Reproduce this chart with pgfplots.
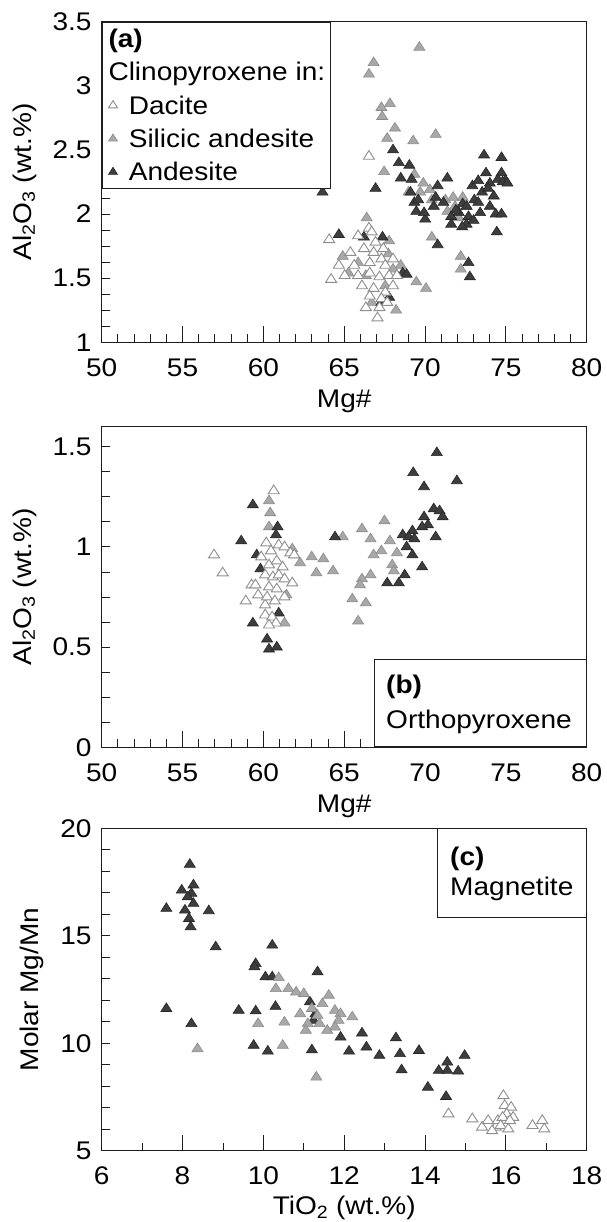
\documentclass[border=0pt]{standalone}
\usepackage{fontspec}
\setmainfont{Liberation Sans}[FakeStretch=1.1]
\usepackage{pgfplots}
\pgfplotsset{compat=1.18}

\definecolor{andfill}{HTML}{3D3D3D}
\definecolor{andedge}{HTML}{262626}
\definecolor{silfill}{HTML}{A8A8A8}
\definecolor{siledge}{HTML}{8A8A8A}
\definecolor{dacedge}{HTML}{8E8E8E}
\definecolor{axcol}{HTML}{1E1E1E}

\newcommand{\figfont}{\fontsize{25.5}{30}\selectfont}

\tikzset{
  boxnode/.style={draw=axcol, line width=1pt, fill=white, inner sep=0pt},
  boxtext/.style={font=\figfont, inner sep=0pt, anchor=base west},
}
\pgfplotsset{
  xlab/.style={every axis x label/.style={at={(ticklabel cs:0.5,#1)},
    anchor=near ticklabel, font=\figfont, inner sep=0pt}},
  ylab/.style={every axis y label/.style={at={(ticklabel cs:0.5,#1)},
    rotate=90, anchor=near ticklabel, font=\figfont, inner sep=0pt}},
  panel/.style={
    scale only axis, width=485pt,
    /pgf/number format/assume math mode=true,
    tick label style={font=\figfont, inner sep=0pt},
    x tick label style={yshift=-16pt},
    y tick label style={xshift=-10pt},
    xlab=13pt, ylab=16pt,
    axis line style={line width=1pt, axcol},
    tick style={line width=0.9pt, axcol},
    tick align=inside,
    xtick pos=bottom, ytick pos=left,
    major tick length=8pt, minor tick length=8pt,
    extra x tick labels={},
    extra x tick style={major tick length=16pt},
  },
  andm/.style={only marks, mark=triangle*, mark size=5.8pt,
    mark options={xscale=1.1, fill=andfill, draw=andedge, line width=0.6pt}},
  silm/.style={only marks, mark=triangle*, mark size=5.8pt,
    mark options={xscale=1.1, fill=silfill, draw=siledge, line width=0.6pt}},
  dacm/.style={only marks, mark=triangle*, mark size=5.8pt,
    mark options={xscale=1.1, fill=white, draw=dacedge, line width=0.9pt}},
}

\begin{document}
\begin{tikzpicture}[x=1pt,y=1pt]
\useasboundingbox (0,0) rectangle (606,-1222);

% ---------- (a) clinopyroxene
\begin{axis}[panel, at={(101.7pt,-342.3pt)}, anchor=south west, height=320.6pt,
  xmin=50, xmax=80, ymin=1, ymax=3.5,
  xtick={50,55,...,80}, minor x tick num=4, extra x ticks={50,55,...,80},
  ytick={1,1.5,...,3.5}, minor y tick num=3,
  xlabel={Mg\#}, ylabel={Al\textsubscript{2}O\textsubscript{3} (wt.\%)},
  legend style={at={(0,1)}, anchor=north west, draw=axcol, line width=1pt,
    fill=white, font=\figfont, inner sep=0pt, row sep=0pt,
    nodes={inner xsep=3pt, inner ysep=2pt, text height=23.5pt, text depth=5.8pt},
    cells={anchor=west}},
  legend image code/.code={\path (0pt,0pt) (22.6pt,0pt);
    \draw[mark repeat=2,mark phase=2,#1]
    plot coordinates {(0pt,0pt) (10.3pt,0pt) (20.6pt,0pt)};},
]
\addlegendimage{empty legend}\addlegendentry{\hspace*{-20.3pt}\textbf{(a)}}
\addlegendimage{empty legend}\addlegendentry{\hspace*{-20.3pt}Clinopyroxene in:\hspace*{2.5pt}}
\addlegendimage{dacm, mark size=4.8pt}\addlegendentry{Dacite}
\addlegendimage{silm, mark size=4.8pt}\addlegendentry{Silicic andesite}
\addlegendimage{andm, mark size=4.8pt}\addlegendentry{Andesite}

\addplot[silm, forget plot] coordinates {
(69.65,3.30) (66.82,3.18) (66.53,3.09) (67.30,2.83) (67.83,2.86) (67.35,2.76)
(68.14,2.67) (67.66,2.59) (69.27,2.57) (70.66,2.62) (67.47,2.33) (69.34,2.31)
(69.89,2.24) (68.98,2.17) (69.70,2.17) (70.30,2.19) (70.42,2.11) (71.26,2.11)
(71.74,2.13) (71.86,2.06) (72.33,2.13) (71.38,2.02) (72.09,1.97) (72.57,2.06)
(70.42,1.82) (72.21,1.67) (72.21,1.57) (69.46,1.47) (70.06,1.42) (66.39,1.97)
(67.78,1.79) (67.73,1.69) (64.91,1.67) (65.26,1.54) (66.34,1.52) (68.50,1.60)
(68.21,1.25) (66.70,1.31) (67.54,1.44) (68.02,1.57) (65.86,1.62)};
\addplot[andm, forget plot] coordinates {
(63.66,2.17) (64.67,1.84) (66.94,2.20) (66.22,1.82) (67.37,1.82) (68.02,2.50)
(68.38,2.40) (69.03,2.38) (68.50,2.28) (69.17,2.27) (69.10,2.17) (69.34,2.09)
(69.46,2.02) (70.01,1.96) (70.78,2.22) (70.66,2.13) (71.14,2.09) (70.54,2.06)
(71.38,2.28) (70.78,1.76) (71.62,1.98) (71.62,1.92) (72.33,2.08) (72.69,1.98)
(72.57,1.92) (72.69,1.62) (72.77,1.51) (72.93,2.22) (73.05,2.11) (73.41,2.01)
(73.65,2.46) (73.77,2.32) (74.01,2.24) (73.29,2.26) (73.53,2.17) (74.25,2.14)
(74.01,2.06) (74.37,2.00) (74.44,1.86) (74.73,2.44) (74.73,2.32) (74.73,2.00)
(74.97,2.26) (73.29,2.09) (72.57,2.06) (72.09,2.01) (69.94,2.01) (69.58,2.11)
(68.62,1.54) (68.86,1.53) (67.30,1.31) (67.78,1.35) (73.90,2.20) (74.50,2.27)
(73.00,1.95) (72.30,1.90) (71.90,2.03) (74.80,2.25) (75.10,2.24)};
\addplot[dacm, forget plot] coordinates {
(66.53,2.45) (64.07,1.80) (65.86,1.83) (66.53,1.89) (66.70,1.86) (65.38,1.70)
(66.22,1.73) (66.94,1.78) (67.42,1.73) (64.67,1.60) (65.62,1.60) (66.58,1.62)
(67.30,1.65) (67.54,1.60) (64.19,1.49) (65.03,1.52) (65.86,1.52) (66.58,1.54)
(67.18,1.51) (67.78,1.52) (66.10,1.44) (66.82,1.42) (67.54,1.39) (68.02,1.44)
(66.58,1.36) (67.30,1.34) (67.66,1.31) (66.34,1.27) (67.18,1.27) (67.06,1.19)
(68.26,1.52) (66.82,1.70) (68.02,1.65)};
\end{axis}

% ---------- (b) orthopyroxene
\begin{axis}[panel, at={(101.7pt,-747.3pt)}, anchor=south west, height=320.6pt,
  xmin=50, xmax=80, ymin=0, ymax=1.6,
  xtick={50,55,...,80}, minor x tick num=4, extra x ticks={50,55,...,80},
  ytick={0,0.5,1,1.5}, minor y tick num=3,
  xlabel={Mg\#}, ylabel={Al\textsubscript{2}O\textsubscript{3} (wt.\%)},
]
\addplot[silm] coordinates {
(60.35,1.23) (60.42,1.17) (60.35,1.10) (62.99,0.95) (63.71,0.94) (62.27,0.92)
(63.28,0.87) (64.31,0.88) (64.91,1.05) (66.10,1.09) (66.63,1.04) (67.49,1.13)
(67.83,1.03) (67.30,0.98) (66.82,0.96) (68.26,0.97) (67.97,0.91) (68.07,0.88)
(66.63,0.86) (66.10,0.84) (65.98,0.81) (65.50,0.74) (66.34,0.72) (65.86,0.63)
(61.31,0.62) (61.43,0.76) (61.91,0.96) (61.79,0.99)};
\addplot[andm] coordinates {
(59.35,1.21) (58.63,1.03) (59.59,0.96) (59.82,0.89) (59.35,0.62) (60.23,0.54)
(60.35,0.49) (60.83,0.50) (60.95,0.67) (60.88,1.10) (60.78,1.06) (64.43,1.05)
(69.27,1.37) (69.94,1.30) (70.73,1.47) (71.97,1.33) (69.94,1.15) (70.18,1.11)
(70.54,1.19) (70.90,1.18) (71.09,1.15) (69.82,1.10) (70.66,1.05) (68.62,1.06)
(69.22,1.08) (68.98,1.05) (68.86,1.00) (69.22,0.96) (69.82,0.90) (68.74,0.86)
(68.38,0.82) (67.66,0.82) (69.34,1.04)};
\addplot[dacm] coordinates {
(56.95,0.96) (57.48,0.87) (58.91,0.73) (59.27,0.81) (59.68,0.76) (60.11,0.71)
(60.64,1.28) (60.18,1.02) (60.47,0.98) (60.95,1.01) (61.31,1.00) (61.67,0.97)
(61.91,0.96) (59.87,0.95) (60.35,0.91) (60.83,0.93) (61.19,0.90) (60.11,0.86)
(60.59,0.85) (60.95,0.86) (61.31,0.84) (60.35,0.80) (60.83,0.79) (61.79,0.82)
(60.23,0.75) (60.71,0.73) (60.11,0.66) (60.54,0.65) (60.78,0.62) (60.35,0.61)
(61.31,0.75) (59.51,0.81)};
\node[boxnode, anchor=south east, minimum width=211.7pt, minimum height=87.3pt]
  (bb) at (rel axis cs:1,0) {};
\node[boxtext] at ([shift={(12pt,-34pt)}]bb.north west) {\textbf{(b)}};
\node[boxtext] at ([shift={(12pt,-69pt)}]bb.north west) {Orthopyroxene};
\end{axis}

% ---------- (c) magnetite
\begin{axis}[panel, at={(101.7pt,-1150.7pt)}, anchor=south west, height=322.4pt,
  xmin=6, xmax=18, ymin=5, ymax=20,
  xtick={6,8,...,18}, minor x tick num=1, extra x ticks={6,8,...,18},
  ytick={5,10,15,20}, minor y tick num=4,
  xlab=11pt,
  xlabel={TiO\textsubscript{2} (wt.\%)}, ylabel={Molar Mg/Mn},
]
\addplot[andm] coordinates {
(8.18,18.32) (7.98,17.12) (8.27,17.36) (8.22,16.97) (8.13,16.81) (8.27,16.50)
(8.06,16.19) (8.16,15.80) (8.20,15.41) (7.60,16.27) (8.65,16.16) (8.82,14.48)
(7.60,11.61) (8.22,10.91) (10.22,14.56) (9.81,13.70) (9.78,13.55) (10.05,13.08)
(10.22,13.08) (11.34,13.32) (9.39,11.53) (9.81,11.50) (10.30,11.71) (9.76,9.90)
(10.11,9.63) (11.20,9.69) (11.15,11.92) (11.29,11.37) (11.24,11.06) (11.91,10.28)
(12.12,9.63) (12.44,10.47) (12.55,9.82) (12.87,9.43) (13.28,10.25) (13.38,9.51)
(13.42,8.76) (13.85,9.66) (14.07,7.95) (14.34,8.73) (14.55,9.12) (14.55,8.73)
(14.52,7.52) (14.82,8.70) (14.98,9.43)};
\addplot[silm] coordinates {
(8.37,9.74) (9.87,10.91) (10.38,13.05) (10.31,12.54) (10.62,12.54) (10.81,12.38)
(11.00,12.31) (10.52,10.98) (10.48,9.90) (10.91,11.37) (11.10,10.91) (11.05,10.60)
(11.39,10.91) (11.46,11.84) (11.62,12.23) (11.58,10.60) (11.77,11.53) (11.91,11.37)
(11.86,11.06) (11.77,10.75) (12.20,11.22) (11.31,8.42) (11.20,11.61) (11.34,11.29)};
\addplot[dacm] coordinates {
(14.58,6.71) (15.17,6.48) (15.41,6.09) (15.56,6.40) (15.75,6.09) (15.80,6.40)
(15.94,7.56) (15.97,7.10) (16.13,7.02) (16.02,6.71) (16.18,6.55) (15.92,6.55)
(15.87,6.17) (16.06,6.01) (16.66,6.17) (16.90,6.40) (16.95,6.01) (15.66,5.93)
(16.10,6.40)};
\node[boxnode, anchor=north east, minimum width=148.7pt, minimum height=88.7pt]
  (cb) at (rel axis cs:1,1) {};
\node[boxtext] at ([shift={(13pt,-36.7pt)}]cb.north west) {\textbf{(c)}};
\node[boxtext] at ([shift={(13pt,-66.7pt)}]cb.north west) {Magnetite};
\end{axis}
\end{tikzpicture}
\end{document}
